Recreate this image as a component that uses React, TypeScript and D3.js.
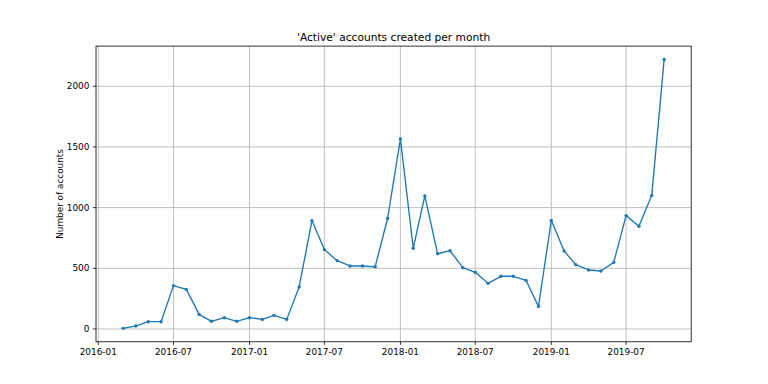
import React from "react";
import * as d3 from "d3";

const months: string[] = [
  "2016-03","2016-04","2016-05","2016-06","2016-07","2016-08","2016-09","2016-10","2016-11","2016-12",
  "2017-01","2017-02","2017-03","2017-04","2017-05","2017-06","2017-07","2017-08","2017-09","2017-10","2017-11","2017-12",
  "2018-01","2018-02","2018-03","2018-04","2018-05","2018-06","2018-07","2018-08","2018-09","2018-10","2018-11","2018-12",
  "2019-01","2019-02","2019-03","2019-04","2019-05","2019-06","2019-07","2019-08","2019-09","2019-10",
];
const accounts: number[] = [
  5, 25, 60, 60, 357, 326, 120, 63, 93, 63,
  93, 79, 112, 79, 346, 893, 654, 563, 519, 519, 513, 912,
  1566, 665, 1097, 620, 645, 505, 467, 376, 434, 434, 400, 186,
  895, 643, 530, 486, 478, 549, 934, 846, 1101, 2220,
];
const xTickLabels: string[] = ["2016-01","2016-07","2017-01","2017-07","2018-01","2018-07","2019-01","2019-07"];
const yTicks: number[] = [0, 500, 1000, 1500, 2000];
const title = "'Active' accounts created per month";
const yLabel = "Number of accounts";

const W = 768, H = 384;
const L = 96, R = 691.2, T = 46.1, B = 341.8;
const FONT = "DejaVu Sans, sans-serif";
const TICK_FS = 8.9;
const TITLE_FS = 10.67;

export default function App() {
  const parse = d3.utcParse("%Y-%m");
  const dates = months.map((m) => parse(m) as Date);
  const data = dates.map((d, i) => ({ d, v: accounts[i] }));
  const t0 = +dates[0], t1 = +dates[dates.length - 1];
  const xPad = (t1 - t0) * 0.05;
  const x = d3.scaleUtc().domain([new Date(t0 - xPad), new Date(t1 + xPad)]).range([L, R]);
  const vMin = d3.min(accounts)!, vMax = d3.max(accounts)!;
  const yPad = (vMax - vMin) * 0.05;
  const y = d3.scaleLinear().domain([vMin - yPad, vMax + yPad]).range([B, T]);
  const line = d3.line<{ d: Date; v: number }>().x((p) => x(p.d)).y((p) => y(p.v));
  const xTicks = xTickLabels.map((s) => ({ s, d: parse(s) as Date }));

  return (
    <svg width={W} height={H} style={{ position: "absolute", left: 0, top: 0, background: "#fff" }} fontFamily={FONT}>
      <rect x={0} y={0} width={W} height={H} fill="#fff" />
      {xTicks.map((t) => (
        <line key={"gx" + t.s} x1={x(t.d)} x2={x(t.d)} y1={T} y2={B} stroke="#b0b0b0" strokeWidth={0.8} />
      ))}
      {yTicks.map((v) => (
        <line key={"gy" + v} x1={L} x2={R} y1={y(v)} y2={y(v)} stroke="#b0b0b0" strokeWidth={0.8} />
      ))}
      <path d={line(data) || ""} fill="none" stroke="#1f77b4" strokeWidth={1.35} strokeLinejoin="round" strokeLinecap="square" />
      {data.map((p, i) => (
        <circle key={i} cx={x(p.d)} cy={y(p.v)} r={1.7} fill="#1f77b4" />
      ))}
      <rect x={L} y={T} width={R - L} height={B - T} fill="none" stroke="#000" strokeWidth={0.8} />
      {xTicks.map((t) => (
        <g key={"tx" + t.s}>
          <line x1={x(t.d)} x2={x(t.d)} y1={B} y2={B + 3.1} stroke="#000" strokeWidth={0.8} />
          <text x={x(t.d)} y={355.3} textAnchor="middle" fontSize={TICK_FS} fill="#000">{t.s}</text>
        </g>
      ))}
      {yTicks.map((v) => (
        <g key={"ty" + v}>
          <line x1={L - 3.1} x2={L} y1={y(v)} y2={y(v)} stroke="#000" strokeWidth={0.8} />
          <text x={L - 6.6} y={y(v)} dy="0.35em" textAnchor="end" fontSize={TICK_FS} fill="#000">{v}</text>
        </g>
      ))}
      <text transform={`translate(${63},${(T + B) / 2}) rotate(-90)`} textAnchor="middle" fontSize={TICK_FS} fill="#000">{yLabel}</text>
      <text x={(L + R) / 2} y={41} textAnchor="middle" fontSize={TITLE_FS} fill="#000">{title}</text>
    </svg>
  );
}
